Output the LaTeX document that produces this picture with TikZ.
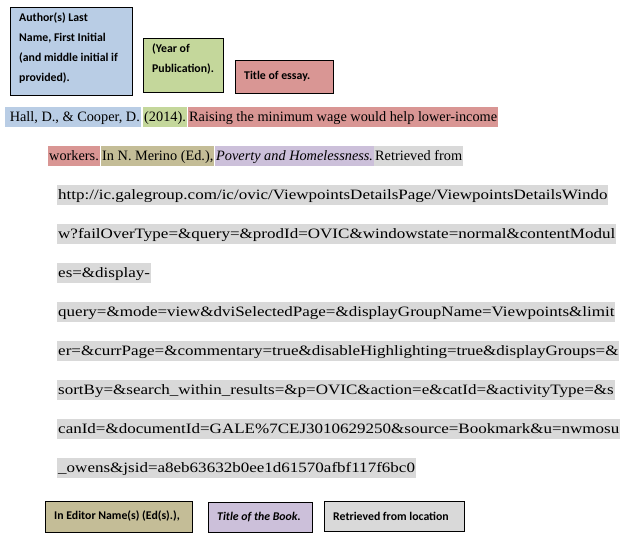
\documentclass[tikz,border=0pt]{standalone}
\usepackage{fontspec}
\setmainfont{Liberation Serif}
\newfontfamily\urlf[FakeStretch=1.19]{Liberation Serif}
\newfontfamily\lab{Carlito}
\definecolor{cblue}{HTML}{B9CDE5}
\definecolor{cgreen}{HTML}{C4D79B}
\definecolor{cred}{HTML}{D99694}
\definecolor{ctan}{HTML}{C4BD97}
\definecolor{cpurp}{HTML}{CCC0DA}
\definecolor{cgray}{HTML}{D9D9D9}
\begin{document}
\begin{tikzpicture}[x=1pt,y=-1pt,
  lbox/.style={font=\lab\bfseries\fontsize{11.8}{20}\selectfont,align=left,inner sep=0pt},
  hl/.style={anchor=west,inner xsep=1pt,inner ysep=0pt,text height=14.5pt,text depth=5.5pt,font=\fontsize{14.3}{16}\selectfont},
  cit/.style={hl,fill=cgray,font=\urlf\fontsize{14.3}{16}\selectfont}]
\useasboundingbox (0,0) rectangle (627,537);
% label boxes
\filldraw[fill=cblue,line width=0.9pt] (10,7) rectangle (132,95);
\node[lbox,anchor=north west] (auth) at (19,13) {Author(s) Last\\Name, First Initial\\(and middle initial if\\provided).};
\filldraw[fill=cgreen,line width=0.9pt] (143,38) rectangle (223,92);
\node[lbox,anchor=north west] (year) at (152,44) {(Year of\\Publication).};
\filldraw[fill=cred,line width=0.9pt] (235,60) rectangle (333,93);
\node[lbox,anchor=west] (tess) at (244,76) {Title of essay.};
\filldraw[fill=ctan,line width=0.9pt] (45,501) rectangle (192,532);
\node[lbox,anchor=west] (ed) at (54,516.5) {In Editor Name(s) (Ed(s).),};
\filldraw[fill=cpurp,line width=0.9pt] (208,502) rectangle (312,532);
\node[lbox,anchor=west] (tb) at (217,517) {\itshape Title of the Book.};
\filldraw[fill=cgray,line width=0.9pt] (324,501) rectangle (464,531);
\node[lbox,anchor=west] (ret) at (333,516) {Retrieved from location};
% citation line 1
\node[hl,fill=cblue] (h1) at (5,117) {\ Hall, D., \& Cooper, D.};
\node[hl,fill=cgreen] (h2) at (143,117) {(2014).};
\node[hl,fill=cred] (h3) at (188,117) {Raising the minimum wage would help lower-income};
% line 2
\node[hl,fill=cred] (h4) at (48,156) {workers.};
\node[hl,fill=ctan] (h5) at (101,156) {In N. Merino (Ed.),};
\node[hl,fill=cpurp] (h6) at (215,156) {\itshape Poverty and Homelessness.};
\node[hl,fill=cgray] (h7) at (374,156) {Retrieved from};
% url lines
\node[cit] (u1) at (57,195) {http://ic.galegroup.com/ic/ovic/ViewpointsDetailsPage/ViewpointsDetailsWindo};
\node[cit] (u2) at (57,234) {w?failOverType=\&query=\&prodId=OVIC\&windowstate=normal\&contentModul};
\node[cit] (u3) at (57,273) {es=\&display-};
\node[cit] (u4) at (57,312) {query=\&mode=view\&dviSelectedPage=\&displayGroupName=Viewpoints\&limit};
\node[cit] (u5) at (57,351) {er=\&currPage=\&commentary=true\&disableHighlighting=true\&displayGroups=\&};
\node[cit] (u6) at (57,390) {sortBy=\&search\_within\_results=\&p=OVIC\&action=e\&catId=\&activityType=\&s};
\node[cit] (u7) at (57,429) {canId=\&documentId=GALE\%7CEJ3010629250\&source=Bookmark\&u=nwmosu};
\node[cit] (u8) at (57,468) {\_owens\&jsid=a8eb63632b0ee1d61570afbf117f6bc0};
\end{tikzpicture}
\end{document}
